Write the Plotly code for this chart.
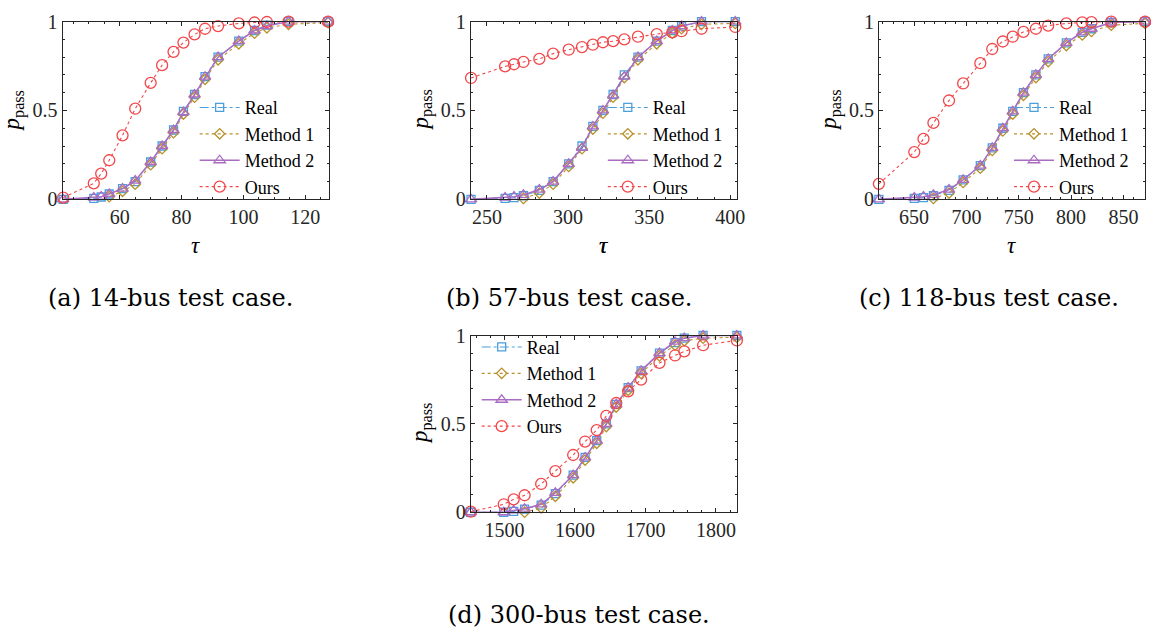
import plotly.graph_objects as go

W, H = 1159, 643

# ---------------- data ----------------
A_tau = [41.7, 51.6, 54.0, 56.6, 60.9, 65.0, 70.0, 73.7, 77.4, 80.6, 84.2, 87.6, 91.8, 98.5, 103.6, 107.6, 114.6, 127.4]
A_real = [0.0, 0.005, 0.013, 0.03, 0.06, 0.10, 0.21, 0.30, 0.39, 0.495, 0.59, 0.69, 0.80, 0.89, 0.95, 0.98, 1.0, 1.0]
A_m1 = [-0.02, -0.01, -0.005, 0.015, 0.045, 0.085, 0.195, 0.285, 0.375, 0.48, 0.575, 0.675, 0.785, 0.875, 0.935, 0.965, 0.985, 0.995]
A_m2 = [0.0, 0.01, 0.015, 0.03, 0.06, 0.105, 0.21, 0.30, 0.39, 0.49, 0.59, 0.69, 0.80, 0.89, 0.95, 0.975, 1.0, 1.0]
A_ours = [0.01, 0.09, 0.145, 0.22, 0.36, 0.51, 0.655, 0.755, 0.83, 0.882, 0.928, 0.96, 0.975, 0.99, 0.995, 0.998, 1.0, 1.0]

B_tau = [240.2, 261.2, 266.7, 272.5, 282.3, 290.8, 300.4, 308.6, 315.3, 321.5, 327.8, 334.7, 343.1, 354.7, 364.3, 370.0, 382.3, 403.1]
B_real = [0.0, 0.005, 0.01, 0.02, 0.05, 0.10, 0.20, 0.30, 0.41, 0.50, 0.59, 0.70, 0.80, 0.89, 0.95, 0.975, 1.0, 1.0]
B_m1 = [-0.02, -0.01, -0.01, 0.005, 0.035, 0.085, 0.185, 0.285, 0.395, 0.485, 0.575, 0.685, 0.785, 0.875, 0.935, 0.96, 0.985, 0.99]
B_m2 = [0.0, 0.01, 0.015, 0.025, 0.055, 0.10, 0.20, 0.29, 0.41, 0.50, 0.585, 0.69, 0.80, 0.89, 0.95, 0.975, 1.0, 1.0]
B_ours = [0.683, 0.748, 0.76, 0.773, 0.79, 0.82, 0.842, 0.857, 0.87, 0.884, 0.89, 0.90, 0.915, 0.93, 0.94, 0.946, 0.96, 0.97]

C_tau = [616.4, 650.2, 659.0, 668.5, 683.4, 696.9, 713.3, 724.7, 734.8, 744.3, 754.5, 766.4, 778.2, 795.5, 810.7, 819.5, 838.4, 870.7]
C_real = [0.0, 0.005, 0.01, 0.02, 0.05, 0.11, 0.19, 0.29, 0.40, 0.495, 0.60, 0.70, 0.79, 0.88, 0.94, 0.96, 0.995, 1.0]
C_m1 = [-0.02, -0.015, -0.01, 0.005, 0.035, 0.095, 0.175, 0.275, 0.385, 0.48, 0.585, 0.685, 0.775, 0.865, 0.925, 0.945, 0.98, 0.99]
C_m2 = [0.0, 0.01, 0.015, 0.025, 0.055, 0.11, 0.19, 0.29, 0.40, 0.495, 0.60, 0.70, 0.79, 0.88, 0.94, 0.96, 0.995, 1.0]
C_ours = [0.087, 0.266, 0.34, 0.43, 0.556, 0.652, 0.766, 0.846, 0.888, 0.915, 0.942, 0.96, 0.978, 0.99, 0.996, 0.997, 1.0, 1.0]

D_tau = [1452.2, 1499.0, 1513.1, 1528.6, 1552.1, 1572.2, 1597.5, 1614.4, 1630.9, 1644.5, 1658.6, 1675.5, 1693.8, 1719.9, 1742.0, 1755.1, 1781.8, 1829.7]
D_real = [0.0, 0.0, 0.005, 0.018, 0.04, 0.105, 0.21, 0.31, 0.405, 0.50, 0.61, 0.705, 0.80, 0.90, 0.96, 0.985, 1.0, 1.0]
D_m1 = [-0.02, -0.02, -0.01, 0.0, 0.025, 0.09, 0.195, 0.295, 0.39, 0.485, 0.595, 0.69, 0.785, 0.885, 0.945, 0.97, 0.985, 0.99]
D_m2 = [0.0, 0.0, 0.01, 0.02, 0.045, 0.11, 0.21, 0.31, 0.405, 0.50, 0.61, 0.705, 0.80, 0.90, 0.965, 0.985, 1.0, 1.0]
D_ours = [0.003, 0.045, 0.073, 0.096, 0.16, 0.233, 0.324, 0.40, 0.465, 0.545, 0.618, 0.684, 0.75, 0.845, 0.887, 0.91, 0.945, 0.972]

SERIES = ["Real", "Method 1", "Method 2", "Ours"]
CAPTIONS = ["(a) 14-bus test case.", "(b) 57-bus test case.",
            "(c) 118-bus test case.", "(d) 300-bus test case."]
X_TICKS = [[60, 80, 100, 120], [250, 300, 350, 400],
           [650, 700, 750, 800, 850], [1500, 1600, 1700, 1800]]
X_MINOR = [5, 10, 10, 20]
Y_TICKS = [0, 0.5, 1]
Y_TICKTEXT = ["0", "0.5", "1"]

panels = [
    (A_tau, [A_real, A_m1, A_m2, A_ours]),
    (B_tau, [B_real, B_m1, B_m2, B_ours]),
    (C_tau, [C_real, C_m1, C_m2, C_ours]),
    (D_tau, [D_real, D_m1, D_m2, D_ours]),
]

# ---------------- styling / layout (pixels) ----------------
FONT = "Liberation Serif"
COLORS = ["#4a9fdd", "#b8912a", "#a96cc2", "#f2474a"]
DASH = ["dashdot", "dot", "solid", "dot"]
LW = [1.1, 1.1, 1.5, 1.1]
SYMB = ["square-open", "diamond-open", "triangle-up-open", "circle-open"]
MSIZE = [8, 8, 10, 11]

# axes boxes: left, right, top, bottom in px
BOX = [(63, 331, 11, 195), (474, 742, 11, 195), (885, 1153, 11, 195), (474, 742, 336, 519)]
X_RANGE = [[41.5, 127.6], [240.0, 404.1], [616.4, 870.7], [1452.2, 1829.7]]
LEG_POS = [(196, 81), (607, 81), (1016, 81), (480, 329)]
CAP_POS = [(172, 297), (573, 297), (996, 297), (583, 625)]


def fx(p):
    return p / W


def fy(p):
    return 1 - p / H


fig = go.Figure()
layout = dict(width=W, height=H, margin=dict(l=0, r=0, t=0, b=0),
              paper_bgcolor="white", plot_bgcolor="white",
              font=dict(family=FONT, color="#262626", size=20),
              annotations=[])

for i, (tau, ys) in enumerate(panels):
    n = "" if i == 0 else str(i + 1)
    lg = "legend" + n
    for k in range(4):
        fig.add_trace(go.Scatter(
            x=tau, y=ys[k], name=SERIES[k], mode="lines+markers",
            xaxis="x" + n, yaxis="y" + n, legend=lg, cliponaxis=False,
            line=dict(color=COLORS[k], width=LW[k], dash=DASH[k]),
            marker=dict(symbol=SYMB[k], size=MSIZE[k], color=COLORS[k],
                        line=dict(color=COLORS[k], width=1.3)),
        ))
    l, r, t, b = BOX[i]
    common = dict(showline=True, linecolor="#262626", linewidth=1, mirror="allticks",
                  ticks="inside", ticklen=4, tickwidth=1, tickcolor="#262626",
                  showgrid=False, zeroline=False,
                  tickfont=dict(family=FONT, size=20, color="#262626"))
    layout["xaxis" + n] = dict(common, domain=[fx(l), fx(r)], range=X_RANGE[i],
                               anchor="y" + n, tickvals=X_TICKS[i],
                               minor=dict(dtick=X_MINOR[i], ticks="inside", ticklen=2,
                                          tickcolor="#262626", showgrid=False))
    layout["yaxis" + n] = dict(common, domain=[fy(b), fy(t)], range=[0, 1],
                               anchor="x" + n, tickvals=Y_TICKS, ticktext=Y_TICKTEXT,
                               minor=dict(dtick=0.1, ticks="inside", ticklen=2,
                                          tickcolor="#262626", showgrid=False))
    lx, ly = LEG_POS[i]
    layout[lg] = dict(x=fx(lx), y=fy(ly), xref="paper", yref="paper",
                      xanchor="left", yanchor="top", bgcolor="rgba(255,255,255,0)",
                      borderwidth=0, font=dict(family=FONT, size=18, color="#000000"),
                      itemwidth=40, tracegroupgap=0)
    # axis titles
    layout["annotations"].append(dict(
        text="<i>τ</i>", x=fx((l + r) / 2), y=fy(243), xref="paper", yref="paper",
        showarrow=False, xanchor="center", yanchor="middle",
        font=dict(family=FONT, size=23, color="#000000")))
    layout["annotations"].append(dict(
        text="<i>p</i><sub>pass</sub>", x=fx(l - 49), y=fy((t + b) / 2),
        xref="paper", yref="paper", textangle=-90, showarrow=False,
        xanchor="center", yanchor="middle",
        font=dict(family=FONT, size=23, color="#000000")))
    cx, cy = CAP_POS[i]
    layout["annotations"].append(dict(
        text=CAPTIONS[i], x=fx(cx), y=fy(cy), xref="paper", yref="paper",
        showarrow=False, xanchor="center", yanchor="middle",
        font=dict(family="DejaVu Serif", size=24, color="#000000")))

fig.update_layout(**layout)
fig.write_html("out.html")
